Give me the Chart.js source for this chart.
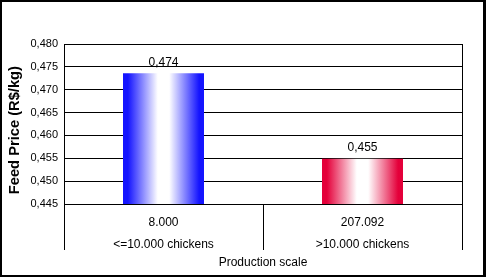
<!DOCTYPE html>
<html>
<head>
<meta charset="utf-8">
<script src="https://cdn.jsdelivr.net/npm/chart.js@4.4.0/dist/chart.umd.min.js"></script>
<style>
  html, body { margin: 0; padding: 0; background: #fff; }
  #wrap { width: 486px; height: 277px; }
</style>
</head>
<body>
<div id="wrap"><canvas id="feed-chart" width="486" height="277"></canvas></div>
<script>
// Chart data
const flockSizes = ['8.000', '207.092'];
const scaleGroups = ['<=10.000 chickens', '>10.000 chickens'];
const feedPrices = [0.4736, 0.4549];
const barColors = ['#1414ff', '#e4003a'];
const yTicks = [0.445, 0.450, 0.455, 0.460, 0.465, 0.470, 0.475, 0.480];

const FONT = "'Liberation Sans', Arial, sans-serif";

// Format number with comma decimal separator
function formatPrice(value) {
    return value.toFixed(3).replace('.', ',');
}

// Horizontal gradient across a bar: coloured edges, white middle
function barGradient(context) {
    const chart = context.chart;
    const color = barColors[context.dataIndex];
    const xScale = chart.scales.x;
    if (!xScale || !chart.chartArea) return color;
    const ds = context.dataset;
    const catWidth = xScale.width / flockSizes.length;
    const barWidth = catWidth * ds.categoryPercentage * ds.barPercentage;
    const center = xScale.getPixelForValue(context.dataIndex);
    const x0 = center - barWidth / 2;
    const g = chart.ctx.createLinearGradient(x0, 0, x0 + barWidth, 0);
    g.addColorStop(0, color);
    g.addColorStop(0.06, color);
    g.addColorStop(0.43, '#ffffff');
    g.addColorStop(0.57, '#ffffff');
    g.addColorStop(0.94, color);
    g.addColorStop(1, color);
    return g;
}

// Frame, right border and value labels
const decorPlugin = {
    id: 'decor',
    beforeDraw(chart) {
        const ctx = chart.ctx;
        ctx.save();
        ctx.fillStyle = '#ffffff';
        ctx.fillRect(0, 0, chart.width, chart.height);
        ctx.restore();
    },
    afterDatasetsDraw(chart) {
        const ctx = chart.ctx;
        const area = chart.chartArea;
        ctx.save();
        // right edge of plot, down through the category band
        ctx.strokeStyle = '#000';
        ctx.lineWidth = 1;
        ctx.beginPath();
        ctx.moveTo(Math.round(area.right) + 0.5, area.top);
        ctx.lineTo(Math.round(area.right) + 0.5, area.bottom + 46);
        ctx.stroke();

        // value labels above bars
        ctx.fillStyle = '#000';
        ctx.font = '12px ' + FONT;
        ctx.textAlign = 'center';
        ctx.textBaseline = 'middle';
        const meta = chart.getDatasetMeta(0);
        meta.data.forEach((bar, i) => {
            ctx.fillText(formatPrice(feedPrices[i]), bar.x, bar.y - 11);
        });
        ctx.restore();
    },
    afterDraw(chart) {
        const ctx = chart.ctx;
        ctx.save();
        ctx.fillStyle = '#000';
        ctx.fillRect(0, 0, chart.width, 2);
        ctx.fillRect(0, 0, 2, chart.height);
        ctx.fillRect(chart.width - 3, 0, 3, chart.height);
        ctx.fillRect(0, chart.height - 2, chart.width, 2);
        ctx.restore();
    }
};

function initializeChart() {
    const ctx = document.getElementById('feed-chart').getContext('2d');
    const labels = flockSizes.map((size, i) => [size, scaleGroups[i]]);

    new Chart(ctx, {
        type: 'bar',
        data: {
            labels: labels,
            datasets: [{
                label: 'Feed Price',
                data: feedPrices,
                backgroundColor: barGradient,
                borderWidth: 0,
                categoryPercentage: 1,
                barPercentage: 0.407
            }]
        },
        options: {
            responsive: false,
            animation: false,
            layout: {
                padding: { left: 0, top: 44, right: 24, bottom: 0 }
            },
            plugins: {
                legend: { display: false },
                tooltip: { enabled: false }
            },
            scales: {
                y: {
                    min: 0.445,
                    max: 0.480,
                    afterFit: scale => { scale.width = 64; },
                    afterBuildTicks: scale => {
                        scale.ticks = yTicks.map(v => ({ value: v }));
                    },
                    ticks: {
                        color: '#000',
                        padding: 6,
                        font: { family: FONT, size: 11 },
                        callback: value => formatPrice(value)
                    },
                    grid: {
                        color: '#000',
                        lineWidth: 1,
                        drawTicks: false
                    },
                    border: { display: true, color: '#000' },
                    title: {
                        display: true,
                        text: 'Feed Price (R$/kg)   ',
                        color: '#000',
                        font: { family: FONT, size: 14.7, weight: 'bold' },
                        padding: { top: 6.6, bottom: 0 }
                    }
                },
                x: {
                    afterFit: scale => { scale.height = 73; },
                    ticks: {
                        color: '#000',
                        padding: -38,
                        font: { family: FONT, size: 12, lineHeight: 1.833 }
                    },
                    grid: {
                        offset: true,
                        color: '#000',
                        drawOnChartArea: false,
                        drawTicks: true,
                        tickLength: 46
                    },
                    border: { display: true, color: '#000' },
                    title: {
                        display: true,
                        text: 'Production scale',
                        color: '#000',
                        font: { family: FONT, size: 12 },
                        padding: { top: 0, bottom: 7 }
                    }
                }
            }
        },
        plugins: [decorPlugin]
    });
}

document.addEventListener('DOMContentLoaded', initializeChart);
</script>
</body>
</html>
